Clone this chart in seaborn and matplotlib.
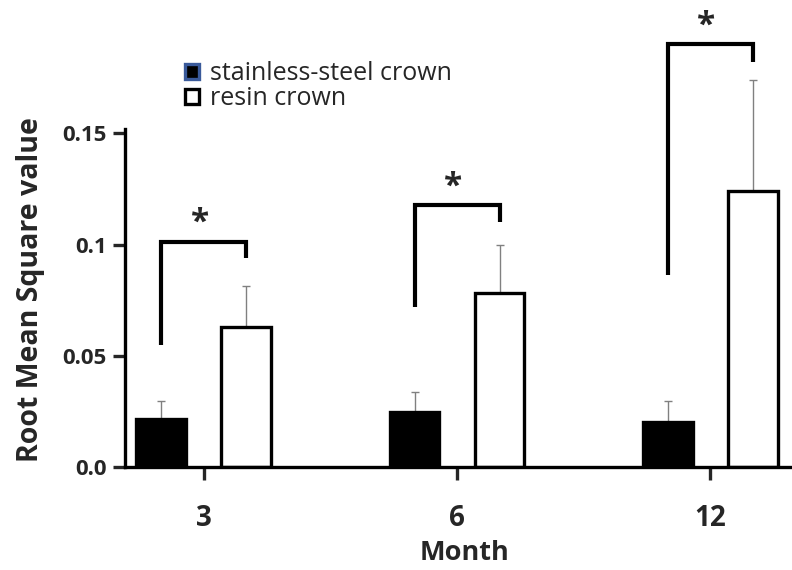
import pandas as pd
import seaborn as sns
import matplotlib.pyplot as plt

# values
months = ['3', '6', '12']
groups = ['stainless-steel crown', 'resin crown']
steel_mean = [0.0216, 0.0248, 0.0203]
steel_err = [0.0081, 0.0090, 0.0094]
resin_mean = [0.0630, 0.0784, 0.1240]
resin_err = [0.0185, 0.0216, 0.0500]
# significance brackets (top, left leg end, right leg end)
brk_top = [0.101, 0.1176, 0.190]
brk_left = [0.055, 0.072, 0.0865]
brk_right = [0.094, 0.110, 0.182]

df = pd.DataFrame({
    'Month': months * 2,
    'group': [groups[0]] * 3 + [groups[1]] * 3,
    'rms': steel_mean + resin_mean,
    'err': steel_err + resin_err,
})

sns.set_style('white')
plt.rcParams['font.family'] = ['Open Sans', 'DejaVu Sans']

fig = plt.figure(figsize=(7.92, 5.70), dpi=100)
ax = fig.add_axes([0.158, 0.1807, 0.84, 0.8193])

sns.barplot(data=df, x='Month', y='rms', hue='group', hue_order=groups,
            order=months, palette=['black', 'white'], saturation=1,
            width=0.671, gap=0.413, edgecolor='black', linewidth=2.4,
            errorbar=None, ax=ax)

# one-sided error bars from the drawn bars
n = len(months)
bars = ax.patches[:2 * n]
for i, p in enumerate(bars):
    cx = p.get_x() + p.get_width() / 2
    h = p.get_height()
    e = df['err'].iloc[i]
    ax.errorbar(cx, h, yerr=[[0], [e]], fmt='none', ecolor='#808080',
                elinewidth=1.0, capsize=2.6, capthick=1.0, zorder=0.5)

for i in range(n):
    b1, b2 = bars[i], bars[i + n]
    x1 = b1.get_x() + b1.get_width() / 2
    x2 = b2.get_x() + b2.get_width() / 2
    ax.plot([x1, x1, x2, x2], [brk_left[i], brk_top[i], brk_top[i], brk_right[i]],
            color='black', lw=3.0, solid_joinstyle='miter', solid_capstyle='butt')
    ax.text((x1 + x2) / 2 - 0.015, brk_top[i] + 0.001, '*', ha='center', va='bottom',
            fontsize=24, fontweight='bold')

ax.set_xlim(-0.31, 2.316)
ax.set_ylim(0, 0.21)
ax.set_yticks([0, 0.05, 0.1, 0.15], ['0.0', '0.05', '0.1', '0.15'])

for s in ['top', 'right']:
    ax.spines[s].set_visible(False)
for s in ['left', 'bottom']:
    ax.spines[s].set_linewidth(2.4)
    ax.spines[s].set_color('black')
ax.spines['left'].set_bounds(0, 0.152)

ax.tick_params(axis='y', direction='out', length=8.5, width=2.4, pad=5,
               labelsize=16, left=True)
ax.tick_params(axis='x', direction='out', length=9.5, width=2.4, pad=17,
               labelsize=20, bottom=True)
for t in ax.get_xticklabels() + ax.get_yticklabels():
    t.set_fontweight('bold')

ax.set_xlabel('Month', fontsize=19.5, fontweight='bold')
ax.xaxis.set_label_coords(0.51, -0.157)
ax.set_ylabel('Root Mean Square value', fontsize=20.5, fontweight='bold')
ax.yaxis.set_label_coords(-0.12, 0.379)

handles, labels = ax.get_legend_handles_labels()
handles[0].set_edgecolor('#3a5a9a')
handles[1].set_edgecolor('black')
leg = ax.legend(handles, labels, loc='upper left', bbox_to_anchor=(0.075, 0.89),
                frameon=False, fontsize=18, handlelength=0.55, handleheight=0.55,
                handletextpad=0.45, labelspacing=0.0, borderaxespad=0)

fig.savefig('out.png', dpi=100)
